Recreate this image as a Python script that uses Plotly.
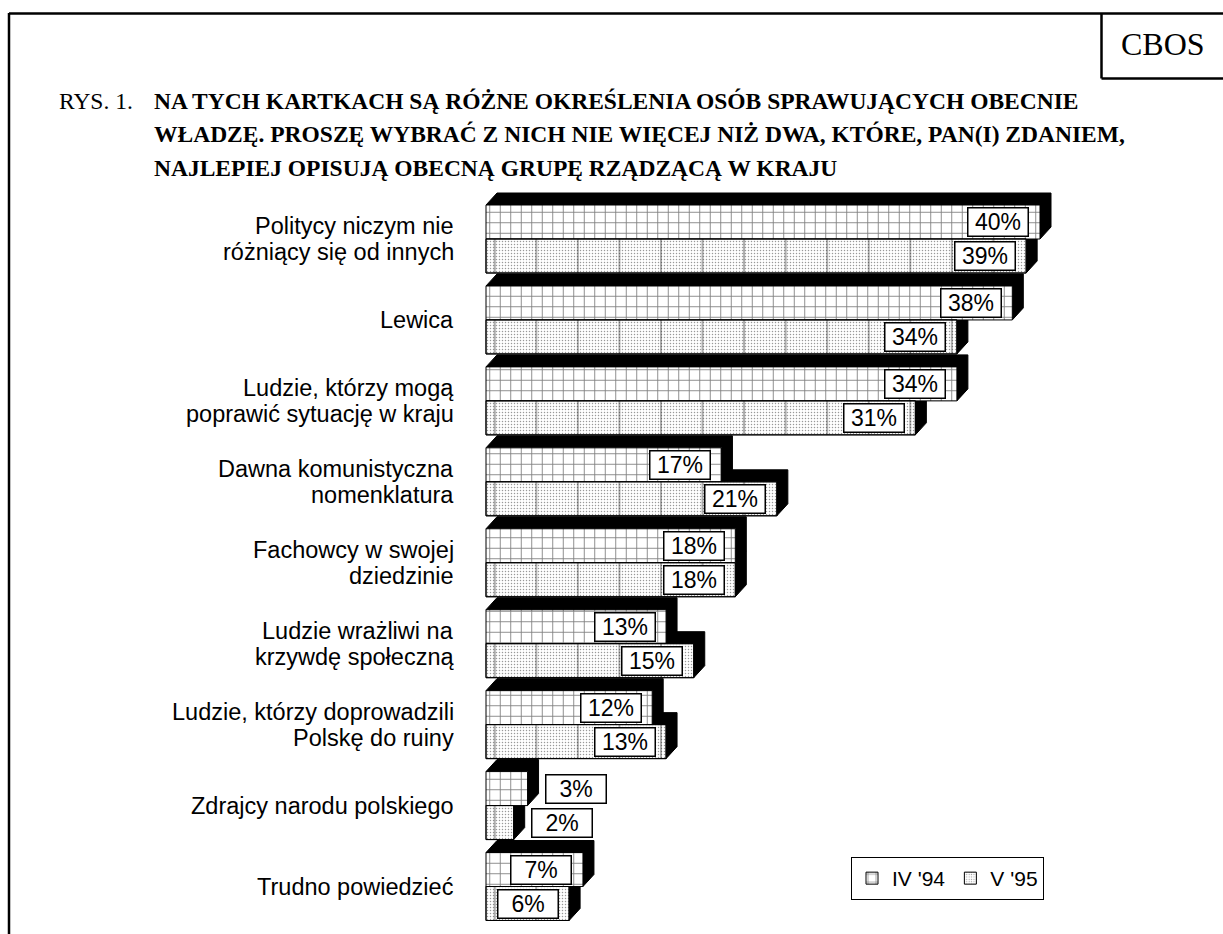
import plotly.graph_objects as go

# ---------------- data ----------------
categories = [
    "Politycy niczym nie<br>różniący się od innych",
    "Lewica",
    "Ludzie, którzy mogą<br>poprawić sytuację w kraju",
    "Dawna komunistyczna<br>nomenklatura",
    "Fachowcy w swojej<br>dziedzinie",
    "Ludzie wrażliwi na<br>krzywdę społeczną",
    "Ludzie, którzy doprowadzili<br>Polskę do ruiny",
    "Zdrajcy narodu polskiego",
    "Trudno powiedzieć",
]
series_names = ["IV '94", "V '95"]
values_94 = [40, 38, 34, 17, 18, 13, 12, 3, 7]
values_95 = [39, 34, 31, 21, 18, 15, 13, 2, 6]

title_lines = [
    "NA TYCH KARTKACH SĄ RÓŻNE OKREŚLENIA OSÓB SPRAWUJĄCYCH OBECNIE",
    "WŁADZĘ. PROSZĘ WYBRAĆ Z NICH NIE WIĘCEJ NIŻ DWA, KTÓRE, PAN(I) ZDANIEM,",
    "NAJLEPIEJ OPISUJĄ OBECNĄ GRUPĘ RZĄDZĄCĄ W KRAJU",
]
fig_label = "RYS. 1."
corner_label = "CBOS"

# ---------------- geometry / style ----------------
W, H = 1223, 934
L, R, T, B = 474, 13, 186, 3
PW, PH = W - L - R, H - T - B
PX_PER_PCT = 13.85          # pixels per percent on the x axis
ZERO_PX = 486               # pixel position of 0 %
GROUP_PX = 80.94            # pixels per category
FIRST_PX = 239              # pixel centre of first category

x_range = [(L - ZERO_PX) / PX_PER_PCT, (L + PW - ZERO_PX) / PX_PER_PCT]
y_top = (T - FIRST_PX) / GROUP_PX
y_range = [y_top + PH / GROUP_PX, y_top]   # reversed

HALF = 0.21                 # half bar height in category units
DX = 11 / PX_PER_PCT        # 3D depth in x units
DY = 12 / GROUP_PX          # 3D depth in y units

SANS = "Liberation Sans, Arial, sans-serif"
SERIF = "Liberation Serif, Times New Roman, serif"


def px_x(px):
    return (px - L) / PW


def px_y(py):
    return (T + PH - py) / PH


n = len(categories)
idx = list(range(n))
y94 = [i - HALF for i in idx]
y95 = [i + HALF for i in idx]

fig = go.Figure()

fig.add_trace(go.Bar(
    name=series_names[0], orientation="h", x=values_94, y=y94, width=2 * HALF,
    marker=dict(color="white", line=dict(color="black", width=1),
                pattern=dict(shape="+", size=10.5, solidity=0.16,
                             fgcolor="black", bgcolor="white")),
    hoverinfo="skip",
))
fig.add_trace(go.Bar(
    name=series_names[1], orientation="h", x=values_95, y=y95, width=2 * HALF,
    marker=dict(color="white", line=dict(color="black", width=1),
                pattern=dict(shape=".", size=3, solidity=0.2,
                             fgcolor="#333333", bgcolor="white")),
    hoverinfo="skip",
))
# vertical divisions inside the V '95 bars
fig.add_trace(go.Bar(
    name=series_names[1], orientation="h", x=values_95, y=y95, width=2 * HALF,
    showlegend=False,
    marker=dict(color="rgba(0,0,0,0)", line=dict(color="black", width=1),
                pattern=dict(shape="|", size=3 * PX_PER_PCT, solidity=0.03,
                             fgcolor="black", bgcolor="rgba(0,0,0,0)",
                             fillmode="overlay")),
    hoverinfo="skip",
))

shapes = []
# 3D depth faces (drawn below the bars)
for vals, ys in ((values_95, y95), (values_94, y94)):
    for v, yc in zip(vals, ys):
        top, bot = yc - HALF, yc + HALF
        path = (f"M0,{top} L{DX},{top - DY} L{v + DX},{top - DY} "
                f"L{v + DX},{bot - DY} L{v},{bot} L{v},{top} Z")
        shapes.append(dict(type="path", path=path, xref="x", yref="y",
                           fillcolor="black", line=dict(color="black", width=1),
                           layer="below"))

# frame lines
frame = dict(xref="paper", yref="paper", line=dict(color="black", width=2.5), layer="above")
shapes.append(dict(type="line", x0=px_x(9), x1=px_x(9), y0=px_y(13), y1=px_y(H + 5), **frame))
shapes.append(dict(type="line", x0=px_x(9), x1=px_x(W + 5), y0=px_y(13.5), y1=px_y(13.5), **frame))
shapes.append(dict(type="line", x0=px_x(1101.5), x1=px_x(1101.5), y0=px_y(13), y1=px_y(78.5), **frame))
shapes.append(dict(type="line", x0=px_x(1101.5), x1=px_x(W + 5), y0=px_y(78.5), y1=px_y(78.5), **frame))

annotations = []
# value labels
for vals, ys in ((values_94, y94), (values_95, y95)):
    for v, yc in zip(vals, ys):
        xpos = v - 3 if v >= 5 else v + 3.5
        annotations.append(dict(
            x=xpos, y=yc, xref="x", yref="y", text=f"{v}%", showarrow=False,
            font=dict(family=SANS, size=23, color="black"),
            bgcolor="white", bordercolor="black", borderwidth=1.5, borderpad=1,
            width=57, height=25, xanchor="center", yanchor="middle"))

# category labels (one annotation per line for tight line spacing)
for i, cat in enumerate(categories):
    lines = cat.split("<br>")
    m = len(lines)
    for k, line in enumerate(lines):
        annotations.append(dict(
            x=px_x(456), y=i, xref="paper", yref="y", text=line, showarrow=False,
            xanchor="right", yanchor="middle", yshift=((m - 1) / 2 - k) * 26,
            height=26,
            font=dict(family=SANS, size=23.5, color="black")))

# title
annotations.append(dict(x=px_x(57), y=px_y(101), xref="paper", yref="paper",
                        text=fig_label, showarrow=False, xanchor="left", yanchor="middle",
                        font=dict(family=SERIF, size=23.5, color="black")))
for k, line in enumerate(title_lines):
    annotations.append(dict(x=px_x(152), y=px_y(101 + k * 33.3), xref="paper", yref="paper",
                            text=f"<b>{line}</b>", showarrow=False, xanchor="left",
                            yanchor="middle",
                            font=dict(family=SERIF, size=23.5, color="black")))
annotations.append(dict(x=px_x(1163), y=px_y(44), xref="paper", yref="paper",
                        text=corner_label, showarrow=False, xanchor="center", yanchor="middle",
                        font=dict(family=SERIF, size=32, color="black")))

fig.update_layout(
    width=W, height=H, autosize=False,
    margin=dict(l=L, r=R, t=T, b=B, pad=0),
    paper_bgcolor="white", plot_bgcolor="white",
    barmode="overlay",
    showlegend=True,
    legend=dict(orientation="h", x=px_x(851), y=px_y(857), xanchor="left", yanchor="top",
                bgcolor="white", bordercolor="black", borderwidth=1,
                font=dict(family=SANS, size=21, color="black"),
                itemwidth=30, tracegroupgap=0, itemclick=False, itemdoubleclick=False),
    xaxis=dict(range=x_range, showgrid=False, zeroline=False, showline=False,
               showticklabels=False, ticks="", fixedrange=True),
    yaxis=dict(range=y_range, showgrid=False, zeroline=False, showline=False,
               showticklabels=False, ticks="", fixedrange=True),
    shapes=shapes,
    annotations=annotations,
)

fig.write_html("out.html", config={"displayModeBar": False, "staticPlot": True},
               post_script="document.body.style.margin='0';document.body.style.padding='0';")
